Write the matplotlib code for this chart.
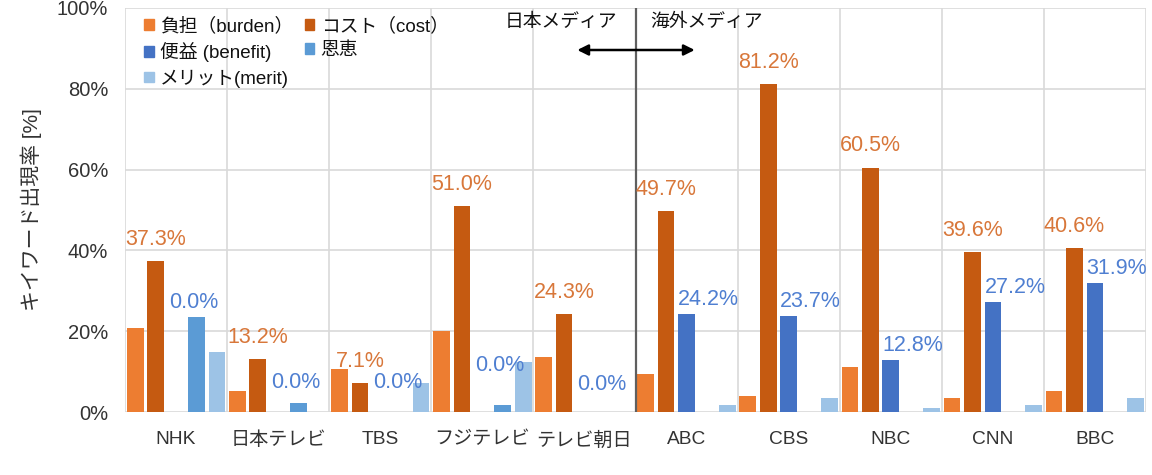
import matplotlib
matplotlib.use("Agg")
import matplotlib.pyplot as plt
from matplotlib.patches import Patch
import numpy as np

plt.rcParams['font.family'] = ['Liberation Sans', 'Noto Sans CJK JP', 'DejaVu Sans']

# ---------------- data ----------------
categories = ['NHK', '日本テレビ', 'TBS', 'フジテレビ', 'テレビ朝日',
              'ABC', 'CBS', 'NBC', 'CNN', 'BBC']
series_names = ['負担（burden）', 'コスト（cost）', '便益 (benefit)', '恩恵', 'メリット(merit)']
burden  = [20.8, 5.2, 10.6, 20.0, 13.6, 9.4, 4.0, 11.1, 3.5, 5.2]
cost    = [37.3, 13.2, 7.1, 51.0, 24.3, 49.7, 81.2, 60.5, 39.6, 40.6]
benefit = [0.0, 0.0, 0.0, 0.0, 0.0, 24.2, 23.7, 12.8, 27.2, 31.9]
onkei   = [23.5, 2.2, 0.0, 1.7, 0.0, 0.0, 0.0, 0.0, 0.0, 0.0]
merit   = [14.9, 0.0, 7.1, 12.4, 0.0, 1.7, 3.5, 1.0, 1.7, 3.5]
yticks = [0, 20, 40, 60, 80, 100]
n_japan = 5
# label heights (layout) for the 0.0% benefit labels of Japanese media
jp_label_y = [27.0, 7.2, 7.2, 11.6, 6.7]

colors = ['#ED7D31', '#C55A11', '#4472C4', '#5B9BD5', '#9DC3E6']
orange_lbl = '#D8773A'
blue_lbl = '#4F7FD1'

fig = plt.figure(figsize=(11.52, 4.75), dpi=100)
ax = fig.add_axes([0.1085, 0.1326, 0.8863, 0.8506])

x = np.arange(len(categories))
step = 0.2
width = 0.163
all_series = [burden, cost, benefit, onkei, merit]
for i, (vals, c) in enumerate(zip(all_series, colors)):
    ax.bar(x - 0.4 + step * i, vals, width=width, color=c, zorder=3,
           label=series_names[i])

ax.set_xlim(-0.5, len(categories) - 0.5)
ax.set_ylim(0, 100)

# gridlines
grid_c = '#D9D9D9'
for yv in yticks:
    ax.axhline(yv, color=grid_c, lw=1.2, zorder=1)
for xb in np.arange(-0.5, len(categories), 1.0):
    ax.axvline(xb, color=grid_c, lw=1.2, zorder=1)
for s in ax.spines.values():
    s.set_visible(False)

# divider between Japanese and overseas media
div = n_japan - 0.5
ax.axvline(div, color='#5F5F5F', lw=1.6, zorder=4)

ax.set_yticks(yticks)
ax.set_yticklabels([f'{v}%' for v in yticks])
ax.set_xticks(x)
ax.set_xticklabels(categories)
ax.tick_params(axis='y', length=0, pad=12, labelsize=14.5, labelcolor='#333333')
ax.tick_params(axis='x', length=0, pad=14, labelsize=13.8, labelcolor='#333333')

ax.set_ylabel('キイワード出現率 [%]', fontsize=15, color='#333333', labelpad=11)

# data labels
for i in range(len(categories)):
    cx = x[i] - 0.4 + step * 1
    ax.annotate(f'{cost[i]:.1f}%', (cx, cost[i]), xytext=(0, 8),
                textcoords='offset points', ha='center', va='bottom',
                fontsize=15.5, color=orange_lbl, zorder=6)
    if i < n_japan:
        bx = x[i] - 0.4 + step * 3
        ax.text(bx - 0.03, jp_label_y[i], f'{benefit[i]:.1f}%', ha='center',
                va='center', fontsize=15.5, color=blue_lbl, zorder=6)
    else:
        bx = x[i] - 0.4 + step * 2 - width / 2
        ax.annotate(f'{benefit[i]:.1f}%', (bx, benefit[i]), xytext=(0, 3),
                    textcoords='offset points', ha='left', va='bottom',
                    fontsize=15.5, color=blue_lbl, zorder=6)

# top annotation
ax.text(div - 0.18, 96.5, '日本メディア', ha='right', va='center',
        fontsize=13.5, color='#111111')
ax.text(div + 0.14, 96.5, '海外メディア', ha='left', va='center',
        fontsize=13.5, color='#111111')
ax.annotate('', xy=(div - 0.57, 89.6), xytext=(div + 0.58, 89.6),
            arrowprops=dict(arrowstyle='<|-|>', color='black', lw=1.8,
                            mutation_scale=16, shrinkA=0, shrinkB=0), zorder=5)

# legend
handles = [Patch(color=c) for c in colors]
order = [0, 2, 4, 1, 3]
leg = ax.legend([handles[k] for k in order], [series_names[k] for k in order],
                ncol=2, loc='upper left', bbox_to_anchor=(0.008, 1.005),
                frameon=False, fontsize=13.5, handlelength=0.5, handleheight=0.5,
                handletextpad=0.35, columnspacing=0.6, labelspacing=0.38,
                borderaxespad=0.2)
for t in leg.get_texts():
    t.set_color('#111111')

fig.savefig('out.png', dpi=100, facecolor='white')
